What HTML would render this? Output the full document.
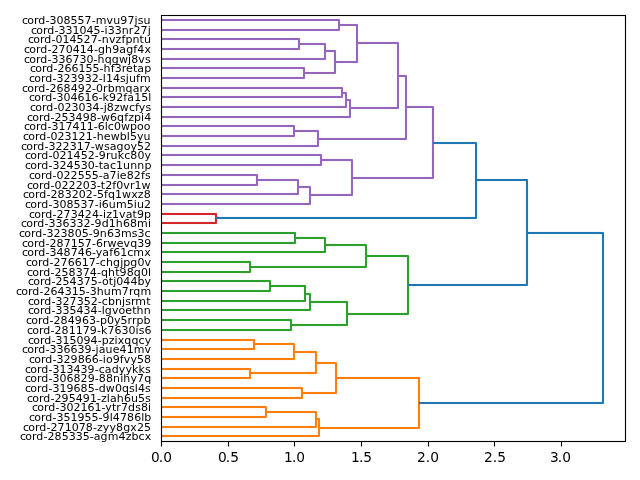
<!DOCTYPE html>
<html><head><meta charset="utf-8"><title>dendrogram</title>
<style>html,body{margin:0;padding:0;background:#fff;overflow:hidden}svg{display:block}
text{font-family:"DejaVu Sans","Liberation Sans",sans-serif;fill:#000}
.l{font-size:11px}
.t{font-size:13.75px}</style>
</head><body>
<svg width="640" height="480" viewBox="0 0 640 480">
<rect width="640" height="480" fill="#fff"/>
<path d="M161 18.5H340M161 21.5H340M161 28.5H340M161 31.5H340M161 37.5H300M161 40.5H300M161 47.5H300M161 50.5H300M299 42.5H326M299 45.5H326M161 57.5H326M161 60.5H326M161 66.5H305M161 69.5H305M161 76.5H305M161 79.5H305M325 49.5H336M325 52.5H336M304 71.5H336M304 74.5H336M339 23.5H358M339 26.5H358M335 60.5H358M335 63.5H358M161 86.5H343M161 89.5H343M161 95.5H343M161 98.5H343M342 91.5H347M342 94.5H347M161 105.5H347M161 108.5H347M346 98.5H351M346 101.5H351M161 115.5H351M161 118.5H351M357 41.5H399M357 44.5H399M350 106.5H399M350 109.5H399M161 124.5H295M161 127.5H295M161 134.5H295M161 137.5H295M294 129.5H319M294 132.5H319M161 144.5H319M161 147.5H319M398 74.5H407M398 77.5H407M318 137.5H407M318 140.5H407M161 153.5H322M161 156.5H322M161 163.5H322M161 166.5H322M161 173.5H258M161 176.5H258M161 183.5H258M161 186.5H258M257 178.5H299M257 181.5H299M161 192.5H299M161 195.5H299M298 185.5H311M298 188.5H311M161 202.5H311M161 205.5H311M321 158.5H353M321 161.5H353M310 193.5H353M310 196.5H353M406 105.5H434M406 108.5H434M352 176.5H434M352 179.5H434" fill="none" stroke="#9467bd" stroke-width="1" stroke-opacity="0.045"/>
<path d="M161 212.5H217M161 215.5H217M161 221.5H217M161 224.5H217" fill="none" stroke="#d62728" stroke-width="1" stroke-opacity="0.045"/>
<path d="M433 141.5H477M433 144.5H477M216 216.5H477M216 219.5H477M476 178.5H528M476 181.5H528M408 283.5H528M408 286.5H528M527 231.5H604M527 234.5H604M419 401.5H604M419 404.5H604" fill="none" stroke="#1f77b4" stroke-width="1" stroke-opacity="0.045"/>
<path d="M161 231.5H296M161 234.5H296M161 241.5H296M161 244.5H296M295 236.5H326M295 239.5H326M161 250.5H326M161 253.5H326M161 260.5H251M161 263.5H251M161 270.5H251M161 273.5H251M325 243.5H367M325 246.5H367M250 265.5H367M250 268.5H367M161 279.5H271M161 282.5H271M161 289.5H271M161 292.5H271M270 284.5H306M270 287.5H306M161 299.5H306M161 302.5H306M305 292.5H311M305 295.5H311M161 308.5H311M161 311.5H311M161 318.5H292M161 321.5H292M161 328.5H292M161 331.5H292M310 300.5H348M310 303.5H348M291 323.5H348M291 326.5H348M366 254.5H409M366 257.5H409M347 312.5H409M347 315.5H409" fill="none" stroke="#2ca02c" stroke-width="1" stroke-opacity="0.045"/>
<path d="M161 338.5H255M161 341.5H255M161 347.5H255M161 350.5H255M254 342.5H295M254 345.5H295M161 357.5H295M161 360.5H295M161 367.5H251M161 370.5H251M161 376.5H251M161 379.5H251M294 350.5H317M294 353.5H317M250 371.5H317M250 374.5H317M161 386.5H303M161 389.5H303M161 396.5H303M161 399.5H303M316 361.5H337M316 364.5H337M302 391.5H337M302 394.5H337M161 405.5H267M161 408.5H267M161 415.5H267M161 418.5H267M266 410.5H317M266 413.5H317M161 425.5H317M161 428.5H317M316 417.5H320M316 420.5H320M161 434.5H320M161 437.5H320M336 376.5H420M336 379.5H420M319 426.5H420M319 429.5H420" fill="none" stroke="#ff7f0e" stroke-width="1" stroke-opacity="0.045"/>
<path d="M161 20H339V30H161" fill="none" stroke="#9467bd" stroke-width="2.0833" stroke-linejoin="round"/>
<path d="M161 39H299V49H161" fill="none" stroke="#9467bd" stroke-width="2.0833" stroke-linejoin="round"/>
<path d="M299 44H325V59H161" fill="none" stroke="#9467bd" stroke-width="2.0833" stroke-linejoin="round"/>
<path d="M161 68H304V78H161" fill="none" stroke="#9467bd" stroke-width="2.0833" stroke-linejoin="round"/>
<path d="M325 51H335V73H304" fill="none" stroke="#9467bd" stroke-width="2.0833" stroke-linejoin="round"/>
<path d="M339 25H357V62H335" fill="none" stroke="#9467bd" stroke-width="2.0833" stroke-linejoin="round"/>
<path d="M161 88H342V97H161" fill="none" stroke="#9467bd" stroke-width="2.0833" stroke-linejoin="round"/>
<path d="M342 93H346V107H161" fill="none" stroke="#9467bd" stroke-width="2.0833" stroke-linejoin="round"/>
<path d="M346 100H350V117H161" fill="none" stroke="#9467bd" stroke-width="2.0833" stroke-linejoin="round"/>
<path d="M357 43H398V108H350" fill="none" stroke="#9467bd" stroke-width="2.0833" stroke-linejoin="round"/>
<path d="M161 126H294V136H161" fill="none" stroke="#9467bd" stroke-width="2.0833" stroke-linejoin="round"/>
<path d="M294 131H318V146H161" fill="none" stroke="#9467bd" stroke-width="2.0833" stroke-linejoin="round"/>
<path d="M398 76H406V139H318" fill="none" stroke="#9467bd" stroke-width="2.0833" stroke-linejoin="round"/>
<path d="M161 155H321V165H161" fill="none" stroke="#9467bd" stroke-width="2.0833" stroke-linejoin="round"/>
<path d="M161 175H257V185H161" fill="none" stroke="#9467bd" stroke-width="2.0833" stroke-linejoin="round"/>
<path d="M257 180H298V194H161" fill="none" stroke="#9467bd" stroke-width="2.0833" stroke-linejoin="round"/>
<path d="M298 187H310V204H161" fill="none" stroke="#9467bd" stroke-width="2.0833" stroke-linejoin="round"/>
<path d="M321 160H352V195H310" fill="none" stroke="#9467bd" stroke-width="2.0833" stroke-linejoin="round"/>
<path d="M406 107H433V178H352" fill="none" stroke="#9467bd" stroke-width="2.0833" stroke-linejoin="round"/>
<path d="M161 214H216V223H161" fill="none" stroke="#d62728" stroke-width="2.0833" stroke-linejoin="round"/>
<path d="M433 143H476V218H216" fill="none" stroke="#1f77b4" stroke-width="2.0833" stroke-linejoin="round"/>
<path d="M161 233H295V243H161" fill="none" stroke="#2ca02c" stroke-width="2.0833" stroke-linejoin="round"/>
<path d="M295 238H325V252H161" fill="none" stroke="#2ca02c" stroke-width="2.0833" stroke-linejoin="round"/>
<path d="M161 262H250V272H161" fill="none" stroke="#2ca02c" stroke-width="2.0833" stroke-linejoin="round"/>
<path d="M325 245H366V267H250" fill="none" stroke="#2ca02c" stroke-width="2.0833" stroke-linejoin="round"/>
<path d="M161 281H270V291H161" fill="none" stroke="#2ca02c" stroke-width="2.0833" stroke-linejoin="round"/>
<path d="M270 286H305V301H161" fill="none" stroke="#2ca02c" stroke-width="2.0833" stroke-linejoin="round"/>
<path d="M305 294H310V310H161" fill="none" stroke="#2ca02c" stroke-width="2.0833" stroke-linejoin="round"/>
<path d="M161 320H291V330H161" fill="none" stroke="#2ca02c" stroke-width="2.0833" stroke-linejoin="round"/>
<path d="M310 302H347V325H291" fill="none" stroke="#2ca02c" stroke-width="2.0833" stroke-linejoin="round"/>
<path d="M366 256H408V314H347" fill="none" stroke="#2ca02c" stroke-width="2.0833" stroke-linejoin="round"/>
<path d="M476 180H527V285H408" fill="none" stroke="#1f77b4" stroke-width="2.0833" stroke-linejoin="round"/>
<path d="M161 340H254V349H161" fill="none" stroke="#ff7f0e" stroke-width="2.0833" stroke-linejoin="round"/>
<path d="M254 344H294V359H161" fill="none" stroke="#ff7f0e" stroke-width="2.0833" stroke-linejoin="round"/>
<path d="M161 369H250V378H161" fill="none" stroke="#ff7f0e" stroke-width="2.0833" stroke-linejoin="round"/>
<path d="M294 352H316V373H250" fill="none" stroke="#ff7f0e" stroke-width="2.0833" stroke-linejoin="round"/>
<path d="M161 388H302V398H161" fill="none" stroke="#ff7f0e" stroke-width="2.0833" stroke-linejoin="round"/>
<path d="M316 363H336V393H302" fill="none" stroke="#ff7f0e" stroke-width="2.0833" stroke-linejoin="round"/>
<path d="M161 407H266V417H161" fill="none" stroke="#ff7f0e" stroke-width="2.0833" stroke-linejoin="round"/>
<path d="M266 412H316V427H161" fill="none" stroke="#ff7f0e" stroke-width="2.0833" stroke-linejoin="round"/>
<path d="M316 419H319V436H161" fill="none" stroke="#ff7f0e" stroke-width="2.0833" stroke-linejoin="round"/>
<path d="M336 378H419V428H319" fill="none" stroke="#ff7f0e" stroke-width="2.0833" stroke-linejoin="round"/>
<path d="M527 233H603V403H419" fill="none" stroke="#1f77b4" stroke-width="2.0833" stroke-linejoin="round"/>
<path d="M161.5 15.5H625.5V441.5H161.5Z" fill="none" stroke="#000" stroke-width="1.1111" stroke-linejoin="miter"/>
<path d="M161.0 14.5H626.0M162.0 16.5H625.0M162.0 440.5H625.0M161.0 442.5H626.0" fill="none" stroke="#000" stroke-width="1" stroke-opacity="0.055"/>
<path d="M161.5 441.5V446.5" stroke="#000" stroke-width="1.1111"/>
<text x="151 158.75 163.125" y="462" class="t">0.0</text>
<path d="M228.5 441.5V446.5" stroke="#000" stroke-width="1.1111"/>
<text x="218 225.75 230.125" y="462" class="t">0.5</text>
<path d="M294.5 441.5V446.5" stroke="#000" stroke-width="1.1111"/>
<text x="284 291.875 296.25" y="462" class="t">1.0</text>
<path d="M361.5 441.5V446.5" stroke="#000" stroke-width="1.1111"/>
<text x="351 358.875 363.25" y="462" class="t">1.5</text>
<path d="M428.5 441.5V446.5" stroke="#000" stroke-width="1.1111"/>
<text x="417 425.75 430.125" y="462" class="t">2.0</text>
<path d="M494.5 441.5V446.5" stroke="#000" stroke-width="1.1111"/>
<text x="484 492.75 497.125" y="462" class="t">2.5</text>
<path d="M561.5 441.5V446.5" stroke="#000" stroke-width="1.1111"/>
<text x="550 557.75 562.125" y="462" class="t">3.0</text>
<text x="22 27.125 33.875 38.25 45.375 49.375 56.375 63.375 70.5 77.5 84.5 91.625 95.625 106.5 113.125 120.25 127.375 134.5 137.625 143.375" y="24" class="l">cord-308557-mvu97jsu</text>
<text x="31 36.125 42.875 47.25 54.375 58.375 65.375 72.375 79.375 86.375 93.5 100.5 104.5 107.625 114.625 121.625 128.75 133.375 140.5 147.625" y="34" class="l">cord-331045-i33nr27j</text>
<text x="28 33.125 39.875 44.25 51.375 55.375 62.375 69.375 76.5 83.5 90.625 97.75 101.75 108.875 115.5 121.375 125.375 132.375 139.5 143.875" y="43" class="l">cord-014527-nvzfpntu</text>
<text x="24 29.125 35.875 40.25 47.375 51.375 58.5 65.625 72.625 79.75 86.75 93.875 97.875 105 112.125 119.25 126.125 133.25 137.25 144.375" y="53" class="l">cord-270414-gh9agf4x</text>
<text x="24 29.125 35.875 40.25 47.375 51.375 58.375 65.375 72.375 79.5 86.5 93.5 97.5 104.625 111.75 118.875 128 131.125 138.25 144.875" y="63" class="l">cord-336730-hqgwj8vs</text>
<text x="30 35.125 41.875 46.25 53.375 57.375 64.5 71.5 78.5 85.5 92.5 99.5 103.5 110.625 114.625 121.625 126 132.875 137.25 144.125" y="72" class="l">cord-266155-hf3retap</text>
<text x="29 34.125 40.875 45.25 52.375 56.375 63.375 70.5 77.5 84.625 91.625 98.75 102.75 105.875 112.875 120 125.75 128.875 136 140" y="82" class="l">cord-323932-l14sjufm</text>
<text x="22 27.125 33.875 38.25 45.375 49.375 56.5 63.5 70.625 77.75 84.875 92 96 103 107.625 114.625 125.5 132.625 139.5 143.875" y="92" class="l">cord-268492-0rbmqarx</text>
<text x="29 34.125 40.875 45.25 52.375 56.375 63.375 70.375 77.5 84.5 91.5 98.5 102.5 109 116.125 123.25 127.25 134.125 141.125 148.125" y="101" class="l">cord-304616-k92fa15l</text>
<text x="30 35.125 41.875 46.25 53.375 57.375 64.375 71.5 78.5 85.5 92.5 99.625 103.625 106.75 113.875 119.75 128.875 135 138.75 145.375" y="111" class="l">cord-023034-j8zwcfys</text>
<text x="27 32.125 38.875 43.25 50.375 54.375 61.5 68.5 75.5 82.625 89.75 96.875 100.875 110 117 124.125 128.125 134 141 144.125" y="121" class="l">cord-253498-w6qfzpi4</text>
<text x="24 29.125 35.875 40.25 47.375 51.375 58.375 65.375 72.5 79.625 86.625 93.625 97.625 104.625 107.75 113.875 120.875 130 137 143.75" y="130" class="l">cord-317411-6lc0wpoo</text>
<text x="23 28.125 34.875 39.25 46.375 50.375 57.375 64.5 71.5 78.5 85.625 92.625 96.625 103.75 110.625 119.75 126.75 129.875 136.875 143.5" y="140" class="l">cord-023121-hewbl5yu</text>
<text x="21 26.125 32.875 37.25 44.375 48.375 55.375 62.5 69.625 76.625 83.625 90.75 94.75 103.875 109.625 116.5 123.625 130.375 137 144" y="150" class="l">cord-322317-wsagoy52</text>
<text x="25 30.125 36.875 41.25 48.375 52.375 59.375 66.5 73.5 80.625 87.625 94.75 98.75 105.875 110.5 117.625 124.125 130.25 137.375 144.375" y="159" class="l">cord-021452-9rukc80y</text>
<text x="25 30.125 36.875 41.25 48.375 52.375 59.375 66.5 73.625 80.625 87.625 94.625 98.625 103 109.875 116 123 130.125 137.25 144.375" y="169" class="l">cord-324530-tac1unnp</text>
<text x="29 34.125 40.875 45.25 52.375 56.375 63.375 70.5 77.625 84.625 91.625 98.625 102.625 109.5 116.625 119.75 126.625 133.75 140.875 144.875" y="179" class="l">cord-022555-a7ie82fs</text>
<text x="27 32.125 38.875 43.25 50.375 54.375 61.375 68.5 75.625 82.75 89.75 96.75 100.75 105.125 112.25 116.25 123.25 129.875 134.5 141.5" y="189" class="l">cord-022203-t2f0vr1w</text>
<text x="23 28.125 34.875 39.25 46.375 50.375 57.5 64.625 71.625 78.75 85.75 92.875 96.875 103.875 107.875 115 122 131.125 137.75 143.625" y="198" class="l">cord-283202-5fq1wxz8</text>
<text x="25 30.125 36.875 41.25 48.375 52.375 59.375 66.375 73.5 80.5 87.5 94.625 98.625 101.75 108.75 115.875 126.75 133.75 136.875 144" y="208" class="l">cord-308537-i6um5iu2</text>
<text x="29 34.125 40.875 45.25 52.375 56.375 63.5 70.625 77.625 84.75 91.875 99 103 106.125 112 119 125.625 132.5 136.875 144" y="218" class="l">cord-273424-iz1vat9p</text>
<text x="21 26.125 32.875 37.25 44.375 48.375 55.375 62.375 69.375 76.375 83.375 90.5 94.5 101.625 108.75 115.75 122.875 129.875 137 147.875" y="227" class="l">cord-336332-9d1h68mi</text>
<text x="19 24.125 30.875 35.25 42.375 46.375 53.375 60.5 67.5 74.625 81.625 88.625 92.625 99.75 106.875 113.875 120.875 131.75 137.5 144.5" y="237" class="l">cord-323805-9n63ms3c</text>
<text x="22 27.125 33.875 38.25 45.375 49.375 56.5 63.625 70.75 77.75 84.75 91.875 95.875 102.875 107.5 116.625 123.5 130.125 137.25 144.25" y="247" class="l">cord-287157-6rwevq39</text>
<text x="22 27.125 33.875 38.25 45.375 49.375 56.375 63.5 70.625 77.75 84.875 91.875 95.625 102.25 109.125 113.125 120.125 127.125 133.25 144.125" y="256" class="l">cord-348746-yaf61cmx</text>
<text x="26 31.125 37.875 42.25 49.375 53.375 60.5 67.625 74.625 81.625 88.625 95.75 99.75 105.875 113 120.125 123.25 130.25 137.375 144.375" y="266" class="l">cord-276617-chgjpg0v</text>
<text x="27 32.125 38.875 43.25 50.375 54.375 61.5 68.5 75.625 82.625 89.75 96.875 100.875 108 115.125 119.5 126.625 133.75 140.875 147.875" y="276" class="l">cord-258374-qht98q0l</text>
<text x="28 33.125 39.875 44.25 51.375 55.375 62.5 69.5 76.625 83.625 90.75 97.75 102 108.75 113.125 116.25 123.25 130.375 137.5 144.5" y="285" class="l">cord-254375-otj044by</text>
<text x="16 21.125 27.875 32.25 39.375 43.375 50.5 57.5 64.625 71.625 78.625 85.625 89.625 96.625 103.75 110.875 121.75 128.875 133.25 140.375" y="295" class="l">cord-264315-3hum7rqm</text>
<text x="28 33.125 39.875 44.25 51.375 55.375 62.375 69.5 76.625 83.625 90.625 97.75 101.75 107.875 114.875 122 125.125 130.875 135.25 146.125" y="305" class="l">cord-327352-cbnjsrmt</text>
<text x="28 33.125 39.875 44.25 51.375 55.375 62.375 69.375 76.375 83.5 90.5 97.625 101.625 104.75 111.875 118.5 125.25 132.125 136.5 143.625" y="314" class="l">cord-335434-lgvoethn</text>
<text x="26 31.125 37.875 42.25 49.375 53.375 60.5 67.625 74.75 81.875 88.875 95.875 99.875 106.875 113.875 120.5 127.5 131.875 136.5 143.5" y="324" class="l">cord-284963-p0y5rrpb</text>
<text x="27 32.125 38.875 43.25 50.375 54.375 61.5 68.625 75.625 82.625 89.75 96.875 100.875 107.375 114.5 121.5 128.5 135.5 138.625 144.375" y="334" class="l">cord-281179-k7630is6</text>
<text x="28 33.125 39.875 44.25 51.375 55.375 62.375 69.375 76.375 83.375 90.5 97.625 101.625 108.625 114.5 117.625 124.25 131.375 138.5 144.625" y="344" class="l">cord-315094-pzixqqcy</text>
<text x="22 27.125 33.875 38.25 45.375 49.375 56.375 63.375 70.375 77.375 84.375 91.5 95.5 98.625 105.5 112.625 119.5 126.625 133.625 144.5" y="353" class="l">cord-336639-jaue41mv</text>
<text x="29 34.125 40.875 45.25 52.375 56.375 63.375 70.5 77.625 84.75 91.75 98.75 102.75 105.875 112.625 119.75 123.75 130.375 137 144" y="363" class="l">cord-329866-io9fvy58</text>
<text x="25 30.125 36.875 41.25 48.375 52.375 59.375 66.375 73.375 80.5 87.5 94.625 98.625 104.75 111.625 118.75 125.375 132 138.5 145" y="373" class="l">cord-313439-cadyykks</text>
<text x="25 30.125 36.875 41.25 48.375 52.375 59.375 66.375 73.375 80.5 87.625 94.75 98.75 105.875 113 120.125 123.25 130.375 137 144.125" y="382" class="l">cord-306829-88nihy7q</text>
<text x="25 30.125 36.875 41.25 48.375 52.375 59.375 66.375 73.5 80.5 87.625 94.625 98.625 105.75 114.875 121.875 129 134.75 137.875 145" y="392" class="l">cord-319685-dw0qsl4s</text>
<text x="27 32.125 38.875 43.25 50.375 54.375 61.5 68.625 75.625 82.75 89.875 96.875 100.875 106.75 109.875 116.75 123.875 130.875 138 145" y="402" class="l">cord-295491-zlah6u5s</text>
<text x="32 37.125 43.875 48.25 55.375 59.375 66.375 73.375 80.5 87.5 94.5 101.5 105.25 111.875 116.25 120.875 128 135.125 140.875 148" y="411" class="l">cord-302161-ytr7ds8i</text>
<text x="29 34.125 40.875 45.25 52.375 56.375 63.375 70.375 77.375 84.5 91.5 98.5 102.5 109.625 112.75 119.875 127 134.125 141.125 144.25" y="421" class="l">cord-351955-9l4786lb</text>
<text x="23 28.125 34.875 39.25 46.375 50.375 57.5 64.625 71.625 78.625 85.75 92.875 96.875 102.75 109.375 116 123.125 130.25 136.875 144" y="431" class="l">cord-271078-zyy8gx25</text>
<text x="20 25.125 31.875 36.25 43.375 47.375 54.5 61.625 68.625 75.625 82.625 89.625 93.625 100.5 107.625 118.5 125.625 131.5 138.5 144.625" y="440" class="l">cord-285335-agm4zbcx</text>
</svg>
</body></html>
